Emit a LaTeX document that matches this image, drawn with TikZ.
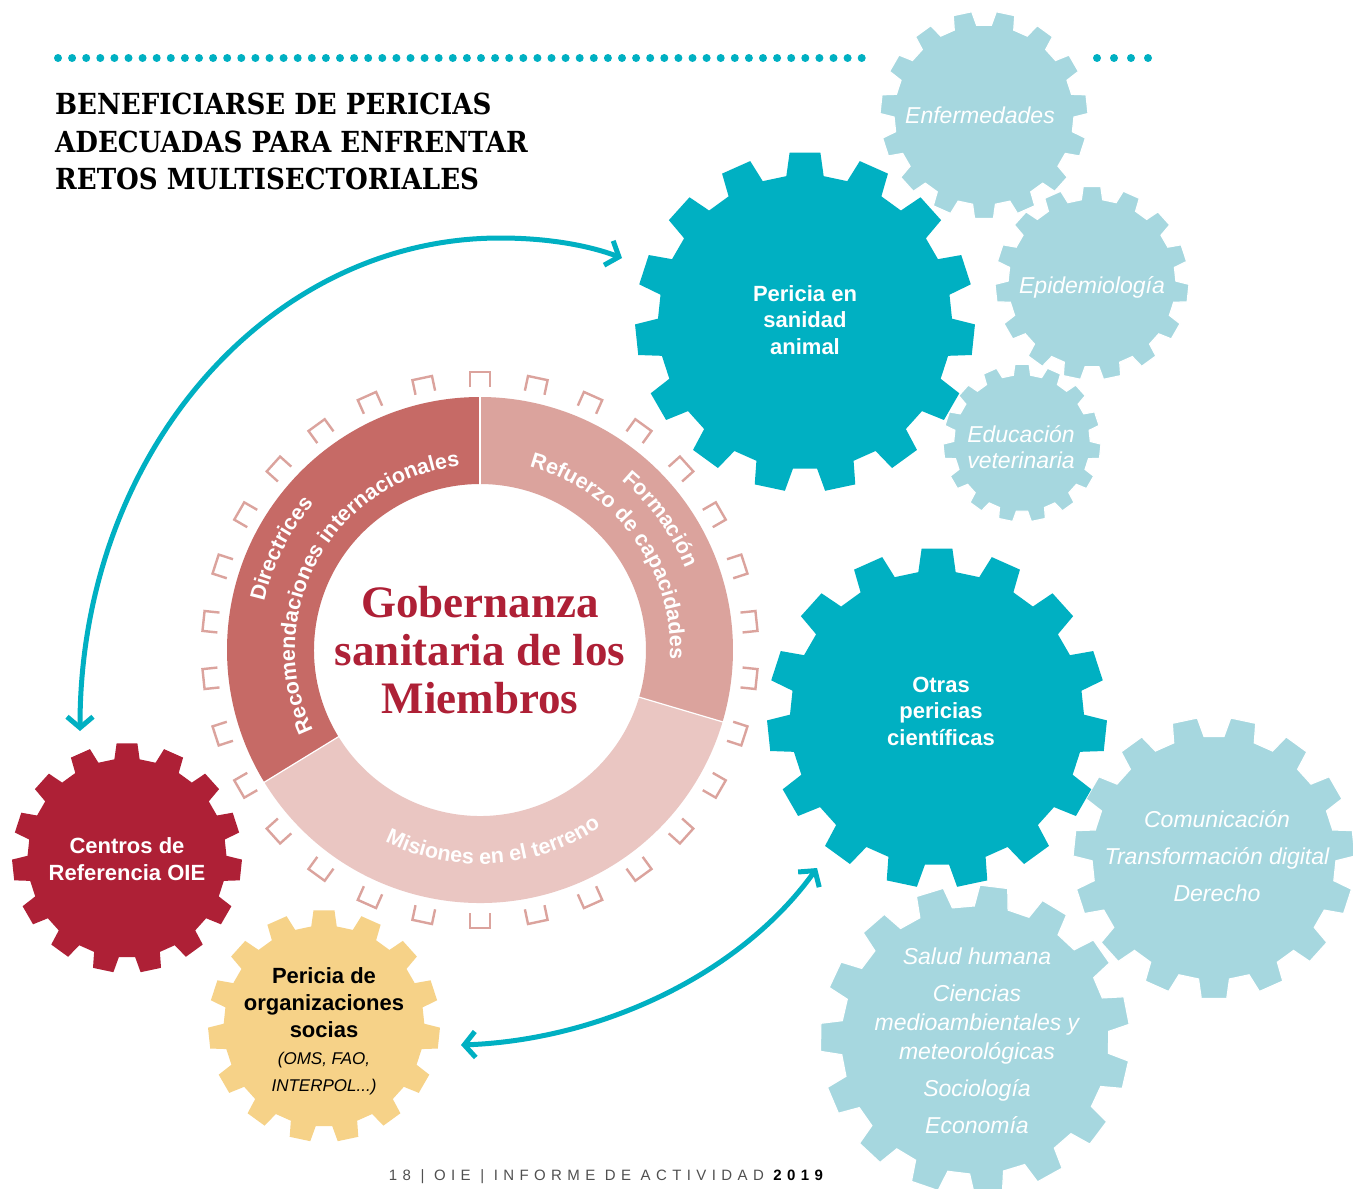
\documentclass[tikz,border=0pt]{standalone}
\usepackage{fontspec}
\setmainfont{Liberation Sans}
\newfontfamily\titlefont{DejaVu Serif Condensed}
\newfontfamily\gobfont{Liberation Serif}
\usetikzlibrary{decorations.text,arrows.meta,calc}
\definecolor{teal1}{RGB}{0,176,194}
\definecolor{lightg}{RGB}{166,215,223}
\definecolor{crim}{RGB}{174,32,54}
\definecolor{yel}{RGB}{246,210,136}
\definecolor{segA}{RGB}{198,106,102}
\definecolor{segB}{RGB}{219,163,157}
\definecolor{segC}{RGB}{234,198,194}
\definecolor{footgray}{RGB}{80,80,80}
\newcommand{\ringfont}{\fontsize{21.5}{21.5}\selectfont\bfseries}
\newcommand{\gearfill}[5]{%
  \begin{scope}[shift={(#1,#2)}]
    \pgfmathsetmacro{\gR}{#3}%
    \pgfmathsetmacro{\gr}{0.865*#3}%
    \path[#5] ({#4-7.3}:\gr)
      \foreach \k in {0,...,14}{ -- ({#4+24*\k-7.3}:\gr) -- ({#4+24*\k-5.2}:\gR) -- ({#4+24*\k+5.2}:\gR) -- ({#4+24*\k+7.3}:\gr) } -- cycle;
  \end{scope}}
\tikzset{
  gearnode/.style={circle, inner sep=0pt, align=center},
  darklabel/.style={text=white, font=\fontsize{22}{26.5}\selectfont\bfseries},
  lightlabel/.style={text=white, font=\fontsize{23}{26}\selectfont\itshape},
  lightgear/.style={fill=lightg, draw=white, line width=1.2pt},
  darkgear/.style={fill=teal1},
  redgear/.style={fill=crim},
  yelgear/.style={fill=yel},
  conn/.style={draw=teal1, line width=5pt, {Straight Barb[length=11pt,width=26pt]}-{Straight Barb[length=11pt,width=26pt]}},
  tickmark/.style={draw=segB, line width=2.4pt},
  ringtext/.style={decorate, decoration={text along path, text align=center, text color=white, text={|\ringfont|#1}}},
}
\begin{document}
\begin{tikzpicture}[x=1pt,y=1pt]
\fill[white] (0,0) rectangle (1353,-1189);
\useasboundingbox (0,0) rectangle (1353,-1189);

% dotted rule
\foreach \i in {0,...,57} \fill[teal1] ({58+\i*14.1},-58) circle[radius=4];
\foreach \x in {1097,1114,1131,1148} \fill[teal1] (\x,-58) circle[radius=4];

% title
\node[anchor=north west, inner sep=0pt, align=left, font=\titlefont\bfseries\fontsize{29}{37.5}\selectfont] (title) at (55,-93) {BENEFICIARSE DE PERICIAS\\ADECUADAS PARA ENFRENTAR\\RETOS MULTISECTORIALES};

% light gears
\gearfill{984}{-115}{104}{102}{lightgear}
\node[gearnode, lightlabel, minimum size=208pt] (enf) at (980,-115) {Enfermedades};
\gearfill{1092}{-283}{97}{90}{lightgear}
\node[gearnode, lightlabel, minimum size=194pt] (epi) at (1092,-287) {Epidemiología};
\gearfill{1022}{-443}{79}{90}{lightgear}
\node[gearnode, lightlabel, minimum size=158pt] (edu) at (1021,-447) {Educación\\veterinaria};
\gearfill{1214}{-858}{141}{102}{lightgear}
\node[gearnode, lightlabel, minimum size=282pt] (com) at (1217,-856) {Comunicación\\[11pt]Transformación digital\\[11pt]Derecho};
\gearfill{975}{-1040}{155}{83}{lightgear}
\node[gearnode, lightlabel, font=\fontsize{23}{29}\selectfont\itshape, minimum size=310pt] (sal) at (977,-1041) {Salud humana\\[8pt]Ciencias\\medioambientales y\\meteorológicas\\[8pt]Sociología\\[8pt]Economía};

% dark gears
\gearfill{805}{-322}{170}{90}{darkgear}
\node[gearnode, darklabel, minimum size=340pt] (per) at (805,-320) {Pericia en\\sanidad\\animal};
\gearfill{937}{-718}{170}{90}{darkgear}
\node[gearnode, darklabel, minimum size=340pt] (otr) at (941,-711) {Otras\\pericias\\científicas};
\gearfill{127}{-858}{115}{90}{redgear}
\node[gearnode, darklabel, minimum size=230pt] (cen) at (127,-859) {Centros de\\Referencia OIE};
\gearfill{324}{-1026}{116}{90}{yelgear}
\node[gearnode, text=black, font=\fontsize{22}{27}\selectfont\bfseries, minimum size=232pt] (soc) at (324,-1031) {Pericia de\\organizaciones\\socias\\{\fontsize{17}{27}\selectfont\mdseries\itshape (OMS, FAO,}\\{\fontsize{17}{27}\selectfont\mdseries\itshape INTERPOL...)}};

% ring
\begin{scope}[shift={(480,-650)}]
  \fill[segA] (90:253) arc[start angle=90, end angle=211.5, radius=253] -- (211.5:166) arc[start angle=211.5, end angle=90, radius=166] -- cycle;
  \fill[segB] (-16.5:253) arc[start angle=-16.5, end angle=90, radius=253] -- (90:166) arc[start angle=90, end angle=-16.5, radius=166] -- cycle;
  \fill[segC] (211.5:253) arc[start angle=211.5, end angle=343.5, radius=253] -- (343.5:166) arc[start angle=343.5, end angle=211.5, radius=166] -- cycle;
  \foreach \a in {90,211.5,343.5} \draw[white, line width=1.2pt] (\a:164) -- (\a:255);
  \foreach \a in {0,12,...,348} \draw[tickmark, rotate=\a] (-10,263) -- (-10,278) -- (10,278) -- (10,263);
  \path[ringtext=Directrices] (203:221) arc[start angle=203, end angle=103, radius=221];
  \path[ringtext=Recomendaciones internacionales] (209:185) arc[start angle=209, end angle=93, radius=185];
  \path[ringtext=Formación] (76:221) arc[start angle=76, end angle=-4, radius=221];
  \path[ringtext=Refuerzo de capacidades] (91:190) arc[start angle=91, end angle=-19, radius=190];
  \path[ringtext=Misiones en el terreno] (214:214) arc[start angle=214, end angle=334, radius=214];
\end{scope}
\node[circle, inner sep=0pt, minimum size=506pt] (ring) at (480,-650) {};
\node[align=center, inner sep=0pt, text=crim, font=\gobfont\bfseries\fontsize{45}{48}\selectfont] (gob) at (480,-650) {Gobernanza\\sanitaria de los\\Miembros};

% connectors
\coordinate (tA) at (80,-731);
\coordinate (tB) at (622,-258);
\coordinate (tC) at (461,-1045);
\coordinate (tD) at (817,-868);
\draw[conn] (tA) .. controls (80,-454) and (268,-238) .. (500,-238) .. controls (550,-238) and (590,-246) .. (tB);
\draw[conn] (tC) .. controls (600,-1040) and (740,-975) .. (tD);

% footer
\node[text=footgray, font=\fontsize{15}{15}\selectfont] (foot) at (606,-1177) {\addfontfeatures{LetterSpace=36}18 | OIE | INFORME DE ACTIVIDAD {\color{black}\bfseries 2019}};
\end{tikzpicture}
\end{document}
